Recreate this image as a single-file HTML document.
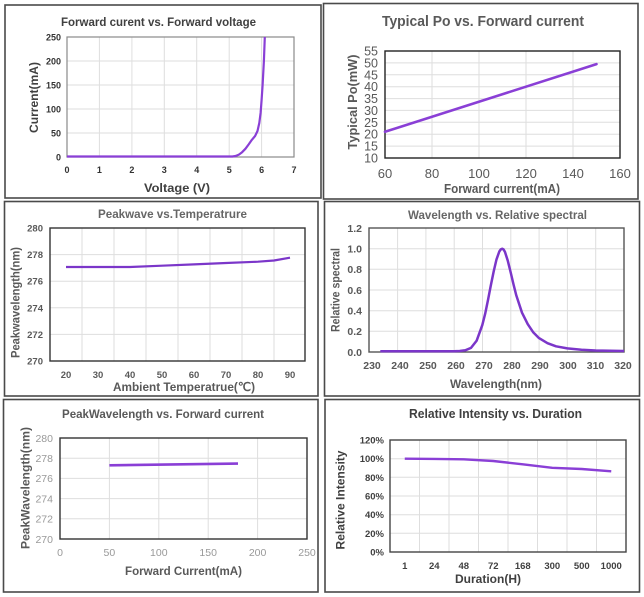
<!DOCTYPE html>
<html><head><meta charset="utf-8"><style>
html,body{margin:0;padding:0;background:#fff;}
svg{display:block;}
text{font-family:"Liberation Sans",Arial,sans-serif;}
</style></head><body>
<svg width="644" height="597" viewBox="0 0 644 597" xmlns="http://www.w3.org/2000/svg">
<rect x="0" y="0" width="644" height="597" fill="#fff"/>
<!-- Panel borders -->
<g fill="none" stroke="#4a4a4a" stroke-width="1.6">
<rect x="5" y="5" width="316" height="193"/>
<rect x="323.5" y="3.5" width="314.5" height="195.5"/>
<rect x="4.5" y="201.5" width="313.5" height="194.5"/>
<rect x="324.5" y="201.5" width="315" height="194.5"/>
<rect x="3.5" y="399.5" width="314.5" height="192.5"/>
<rect x="325" y="399.5" width="314.5" height="192.5"/>
</g>

<!-- ===== Panel 1 ===== -->
<g stroke="#dedede" stroke-width="1">
<line x1="99.4" y1="37" x2="99.4" y2="157"/><line x1="131.9" y1="37" x2="131.9" y2="157"/>
<line x1="164.3" y1="37" x2="164.3" y2="157"/><line x1="196.7" y1="37" x2="196.7" y2="157"/>
<line x1="229.2" y1="37" x2="229.2" y2="157"/><line x1="261.6" y1="37" x2="261.6" y2="157"/>
<line x1="67" y1="61" x2="294" y2="61"/><line x1="67" y1="85" x2="294" y2="85"/>
<line x1="67" y1="109" x2="294" y2="109"/><line x1="67" y1="133" x2="294" y2="133"/>
</g>
<rect x="67" y="37" width="227" height="120" fill="none" stroke="#8a8a8a" stroke-width="1.2"/>
<polyline fill="none" stroke="#8a3fd6" stroke-width="2.2" stroke-linejoin="round" points="67,156.5 232.4,156.5 235.6,156 238.9,154.6 242.1,152.2 245.4,148.8 248.6,144.5 251.9,139.8 255.1,136 257.5,131 259.3,123 260.6,113 261.6,100 262.6,85 263.9,61 264.8,37"/>
<g font-size="9" font-weight="bold" fill="#333" text-anchor="end">
<text x="61" y="40.5">250</text><text x="61" y="64.5">200</text><text x="61" y="88.5">150</text>
<text x="61" y="112.5">100</text><text x="61" y="136.5">50</text><text x="61" y="160.5">0</text>
</g>
<g font-size="9" font-weight="bold" fill="#333" text-anchor="middle">
<text x="67" y="173">0</text><text x="99.4" y="173">1</text><text x="131.9" y="173">2</text>
<text x="164.3" y="173">3</text><text x="196.7" y="173">4</text><text x="229.2" y="173">5</text>
<text x="261.6" y="173">6</text><text x="294" y="173">7</text>
</g>
<text x="158.5" y="26" font-size="12" font-weight="bold" fill="#404040" text-anchor="middle" textLength="195" lengthAdjust="spacingAndGlyphs">Forward curent vs. Forward voltage</text>
<text x="177" y="192" font-size="12" font-weight="bold" fill="#404040" text-anchor="middle" textLength="66" lengthAdjust="spacingAndGlyphs">Voltage  (V)</text>
<text transform="translate(38,97.5) rotate(-90)" font-size="11.5" font-weight="bold" fill="#404040" text-anchor="middle" textLength="71" lengthAdjust="spacingAndGlyphs">Current(mA)</text>

<!-- ===== Panel 2 ===== -->
<g stroke="#dedede" stroke-width="1">
<line x1="432" y1="51" x2="432" y2="158"/><line x1="479" y1="51" x2="479" y2="158"/>
<line x1="526" y1="51" x2="526" y2="158"/><line x1="573" y1="51" x2="573" y2="158"/>
<line x1="385" y1="62.9" x2="620" y2="62.9"/><line x1="385" y1="74.8" x2="620" y2="74.8"/>
<line x1="385" y1="86.7" x2="620" y2="86.7"/><line x1="385" y1="98.6" x2="620" y2="98.6"/>
<line x1="385" y1="110.4" x2="620" y2="110.4"/><line x1="385" y1="122.3" x2="620" y2="122.3"/>
<line x1="385" y1="134.2" x2="620" y2="134.2"/><line x1="385" y1="146.1" x2="620" y2="146.1"/>
</g>
<rect x="385" y="51" width="235" height="107" fill="none" stroke="#222" stroke-width="1.4"/>
<line x1="385" y1="131.8" x2="596.5" y2="64.1" stroke="#8a3fd6" stroke-width="2.6" stroke-linecap="round"/>
<g font-size="12.5" fill="#595959" text-anchor="end">
<text x="378" y="55.5">55</text><text x="378" y="67.4">50</text><text x="378" y="79.3">45</text>
<text x="378" y="91.2">40</text><text x="378" y="103.1">35</text><text x="378" y="114.9">30</text>
<text x="378" y="126.8">25</text><text x="378" y="138.7">20</text><text x="378" y="150.6">15</text>
<text x="378" y="162.5">10</text>
</g>
<g font-size="13" fill="#595959" text-anchor="middle">
<text x="385" y="178">60</text><text x="432" y="178">80</text><text x="479" y="178">100</text>
<text x="526" y="178">120</text><text x="573" y="178">140</text><text x="620" y="178">160</text>
</g>
<text x="483" y="26" font-size="15" font-weight="bold" fill="#595959" text-anchor="middle" textLength="202" lengthAdjust="spacingAndGlyphs">Typical Po vs. Forward current</text>
<text x="502" y="193" font-size="13" font-weight="bold" fill="#595959" text-anchor="middle" textLength="116" lengthAdjust="spacingAndGlyphs">Forward current(mA)</text>
<text transform="translate(357,102) rotate(-90)" font-size="13" font-weight="bold" fill="#595959" text-anchor="middle" textLength="95" lengthAdjust="spacingAndGlyphs">Typical Po(mW)</text>

<!-- ===== Panel 3 ===== -->
<g stroke="#dedede" stroke-width="1">
<line x1="82" y1="228" x2="82" y2="361"/><line x1="114" y1="228" x2="114" y2="361"/>
<line x1="146" y1="228" x2="146" y2="361"/><line x1="178" y1="228" x2="178" y2="361"/>
<line x1="210" y1="228" x2="210" y2="361"/><line x1="242" y1="228" x2="242" y2="361"/>
<line x1="274" y1="228" x2="274" y2="361"/>
<line x1="50" y1="254.6" x2="305" y2="254.6"/><line x1="50" y1="281.2" x2="305" y2="281.2"/>
<line x1="50" y1="307.8" x2="305" y2="307.8"/><line x1="50" y1="334.4" x2="305" y2="334.4"/>
</g>
<rect x="50" y="228" width="255" height="133" fill="none" stroke="#333" stroke-width="1.4"/>
<polyline fill="none" stroke="#7b36c9" stroke-width="2.2" stroke-linejoin="round" points="66,267 98,267 130,267 162,265.7 194,264.4 226,263 258,261.7 274,260.5 290,257.7"/>
<g font-size="9.5" font-weight="bold" fill="#595959" text-anchor="end">
<text x="43" y="231.5">280</text><text x="43" y="258.1">278</text><text x="43" y="284.7">276</text>
<text x="43" y="311.3">274</text><text x="43" y="337.9">272</text><text x="43" y="364.5">270</text>
</g>
<g font-size="9.5" font-weight="bold" fill="#595959" text-anchor="middle">
<text x="66" y="378">20</text><text x="98" y="378">30</text><text x="130" y="378">40</text>
<text x="162" y="378">50</text><text x="194" y="378">60</text><text x="226" y="378">70</text>
<text x="258" y="378">80</text><text x="290" y="378">90</text>
</g>
<text x="172.5" y="218" font-size="11.5" font-weight="bold" fill="#666" text-anchor="middle" textLength="149" lengthAdjust="spacingAndGlyphs">Peakwave vs.Temperatrure</text>
<text x="184" y="391" font-size="12" font-weight="bold" fill="#595959" text-anchor="middle" textLength="142" lengthAdjust="spacingAndGlyphs">Ambient Temperatrue(℃)</text>
<text transform="translate(19.5,302.5) rotate(-90)" font-size="11.5" font-weight="bold" fill="#595959" text-anchor="middle" textLength="111" lengthAdjust="spacingAndGlyphs">Peakwavelength(nm)</text>

<!-- ===== Panel 4 ===== -->
<g stroke="#dedede" stroke-width="1">
<line x1="397.6" y1="228" x2="397.6" y2="352"/><line x1="425.9" y1="228" x2="425.9" y2="352"/>
<line x1="454.2" y1="228" x2="454.2" y2="352"/><line x1="482.5" y1="228" x2="482.5" y2="352"/>
<line x1="510.8" y1="228" x2="510.8" y2="352"/><line x1="539.1" y1="228" x2="539.1" y2="352"/>
<line x1="567.4" y1="228" x2="567.4" y2="352"/><line x1="595.7" y1="228" x2="595.7" y2="352"/>
<line x1="369" y1="248.7" x2="624" y2="248.7"/><line x1="369" y1="269.3" x2="624" y2="269.3"/>
<line x1="369" y1="290" x2="624" y2="290"/><line x1="369" y1="310.7" x2="624" y2="310.7"/>
<line x1="369" y1="331.3" x2="624" y2="331.3"/>
</g>
<rect x="369" y="228" width="255" height="124" fill="none" stroke="#555" stroke-width="1.4"/>
<polyline fill="none" stroke="#7b36c9" stroke-width="2.5" stroke-linejoin="round" points="380.3,351.2 439.8,351.2 454,351.2 459.7,351 465.3,350.3 471,347.9 476.7,340.6 482.3,325.1 485.2,313.6 488,300 490.8,285.5 493.7,271.4 496.5,259.4 499.3,251.5 500.8,249.4 502.2,248.7 503.6,249.5 505,252 507.8,260.8 510.7,272.5 513.5,284.4 516.3,295.4 522,312.7 527.7,324.1 533.3,332.4 539,338.1 547.5,343.2 556,346.3 567.3,348.4 581.5,349.7 595.6,350.5 609.8,350.8 624,351"/>
<g font-size="10.5" font-weight="bold" fill="#595959" text-anchor="end">
<text x="362" y="231.8">1.2</text><text x="362" y="252.5">1.0</text><text x="362" y="273.1">0.8</text>
<text x="362" y="293.8">0.6</text><text x="362" y="314.5">0.4</text><text x="362" y="335.1">0.2</text>
<text x="362" y="355.8">0.0</text>
</g>
<g font-size="10.5" font-weight="bold" fill="#595959" text-anchor="middle">
<text x="372" y="369">230</text><text x="400" y="369">240</text><text x="428" y="369">250</text>
<text x="456" y="369">260</text><text x="484" y="369">270</text><text x="512" y="369">280</text>
<text x="540" y="369">290</text><text x="568" y="369">300</text><text x="595.5" y="369">310</text>
<text x="623" y="369">320</text>
</g>
<text x="497.5" y="219" font-size="11.5" font-weight="bold" fill="#666" text-anchor="middle" textLength="179" lengthAdjust="spacingAndGlyphs">Wavelength vs. Relative spectral</text>
<text x="496" y="388" font-size="11.5" font-weight="bold" fill="#595959" text-anchor="middle" textLength="92" lengthAdjust="spacingAndGlyphs">Wavelength(nm)</text>
<text transform="translate(339.5,290) rotate(-90)" font-size="11.5" font-weight="bold" fill="#595959" text-anchor="middle" textLength="84" lengthAdjust="spacingAndGlyphs">Relative spectral</text>

<!-- ===== Panel 5 ===== -->
<g stroke="#dedede" stroke-width="1">
<line x1="109.4" y1="438" x2="109.4" y2="539"/><line x1="158.8" y1="438" x2="158.8" y2="539"/>
<line x1="208.2" y1="438" x2="208.2" y2="539"/><line x1="257.6" y1="438" x2="257.6" y2="539"/>
<line x1="60" y1="458.2" x2="307" y2="458.2"/><line x1="60" y1="478.4" x2="307" y2="478.4"/>
<line x1="60" y1="498.6" x2="307" y2="498.6"/><line x1="60" y1="518.8" x2="307" y2="518.8"/>
</g>
<rect x="60" y="438" width="247" height="101" fill="none" stroke="#333" stroke-width="1.4"/>
<line x1="109.4" y1="465.3" x2="238" y2="463.6" stroke="#8a3fd6" stroke-width="2.6"/>
<g font-size="10.5" fill="#999" text-anchor="end">
<text x="53" y="441.8">280</text><text x="53" y="462">278</text><text x="53" y="482.2">276</text>
<text x="53" y="502.4">274</text><text x="53" y="522.6">272</text><text x="53" y="542.8">270</text>
</g>
<g font-size="10.5" fill="#999" text-anchor="middle">
<text x="60" y="556">0</text><text x="109.4" y="556">50</text><text x="158.8" y="556">100</text>
<text x="208.2" y="556">150</text><text x="257.6" y="556">200</text><text x="307" y="556">250</text>
</g>
<text x="163" y="418" font-size="11.5" font-weight="bold" fill="#595959" text-anchor="middle" textLength="202" lengthAdjust="spacingAndGlyphs">PeakWavelength vs. Forward current</text>
<text x="183.5" y="575" font-size="12" font-weight="bold" fill="#595959" text-anchor="middle" textLength="117" lengthAdjust="spacingAndGlyphs">Forward Current(mA)</text>
<text transform="translate(29.5,488) rotate(-90)" font-size="12" font-weight="bold" fill="#595959" text-anchor="middle" textLength="122" lengthAdjust="spacingAndGlyphs">PeakWavelength(nm)</text>

<!-- ===== Panel 6 ===== -->
<g stroke="#dedede" stroke-width="1">
<line x1="419.5" y1="440" x2="419.5" y2="552"/><line x1="449" y1="440" x2="449" y2="552"/>
<line x1="478.5" y1="440" x2="478.5" y2="552"/><line x1="508" y1="440" x2="508" y2="552"/>
<line x1="537.5" y1="440" x2="537.5" y2="552"/><line x1="567" y1="440" x2="567" y2="552"/>
<line x1="596.5" y1="440" x2="596.5" y2="552"/>
<line x1="390" y1="458.7" x2="626" y2="458.7"/><line x1="390" y1="477.3" x2="626" y2="477.3"/>
<line x1="390" y1="496" x2="626" y2="496"/><line x1="390" y1="514.7" x2="626" y2="514.7"/>
<line x1="390" y1="533.3" x2="626" y2="533.3"/>
</g>
<rect x="390" y="440" width="236" height="112" fill="none" stroke="#444" stroke-width="1.4"/>
<polyline fill="none" stroke="#8a3fd6" stroke-width="2.4" stroke-linejoin="round" points="404.75,458.7 434.25,458.9 463.75,459.3 493.25,461 522.75,464.3 552.25,467.8 581.75,469 611.25,471.3"/>
<g font-size="9.5" font-weight="bold" fill="#404040" text-anchor="end">
<text x="384" y="443.5">120%</text><text x="384" y="462.2">100%</text><text x="384" y="480.8">80%</text>
<text x="384" y="499.5">60%</text><text x="384" y="518.2">40%</text><text x="384" y="536.8">20%</text>
<text x="384" y="555.5">0%</text>
</g>
<g font-size="9.5" font-weight="bold" fill="#404040" text-anchor="middle">
<text x="404.75" y="569">1</text><text x="434.25" y="569">24</text><text x="463.75" y="569">48</text>
<text x="493.25" y="569">72</text><text x="522.75" y="569">168</text><text x="552.25" y="569">300</text>
<text x="581.75" y="569">500</text><text x="611.25" y="569">1000</text>
</g>
<text x="495.5" y="418" font-size="12.5" font-weight="bold" fill="#404040" text-anchor="middle" textLength="173" lengthAdjust="spacingAndGlyphs">Relative Intensity vs. Duration</text>
<text x="488" y="583" font-size="12" font-weight="bold" fill="#404040" text-anchor="middle" textLength="66" lengthAdjust="spacingAndGlyphs">Duration(H)</text>
<text transform="translate(344.5,500) rotate(-90)" font-size="11.5" font-weight="bold" fill="#404040" text-anchor="middle" textLength="99" lengthAdjust="spacingAndGlyphs">Relative Intensity</text>
</svg>
</body></html>
